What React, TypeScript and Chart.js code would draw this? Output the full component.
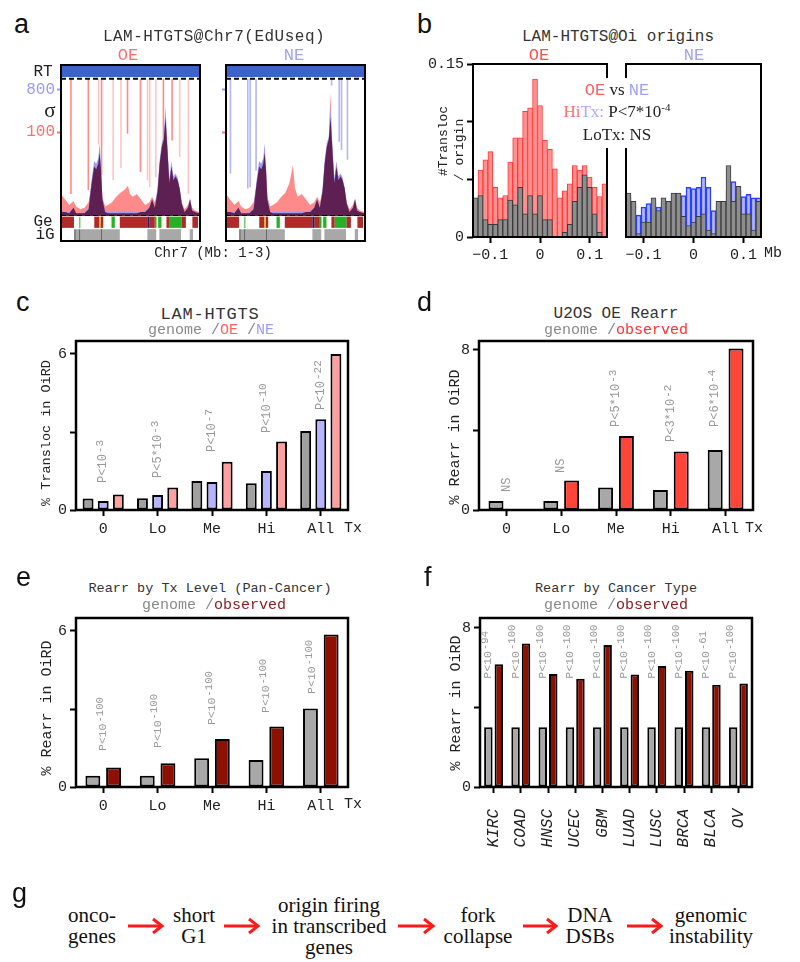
import React, { useEffect, useRef } from 'react';
import { Chart, registerables } from 'chart.js';

Chart.register(...registerables);

const MONO = '"Liberation Mono", "Courier New", monospace';
const SERIF = '"Liberation Serif", "Times New Roman", serif';
const SANS = '"Liberation Sans", Arial, sans-serif';
Chart.defaults.font.family = MONO;
Chart.defaults.color = '#222';

// ---------------- Panel a data ----------------
const aSigX = [0, 3, 6, 9, 11, 14, 17, 20, 22, 24, 25.5, 27, 28, 29, 30, 32, 34, 37, 40, 43, 46, 48.5, 50, 52, 55, 58, 61, 64, 66, 68, 70, 71.5, 73, 74.5, 75.7, 77, 78.5, 80, 81.5, 83, 84.5, 86, 87.5, 89.5, 92, 93.5, 95, 97, 100];
const aPinkOE = [16, 12, 8, 11, 7, 5, 6, 10, 22, 36, 34, 38, 46, 33, 14, 7, 8, 10, 14, 17, 19, 22, 16, 14, 16, 12, 8, 10, 14, 10, 18, 38, 50, 56, 72, 50, 24, 36, 26, 29, 26, 20, 10, 5, 8, 13, 6, 4, 3];
const aPinkNE = [16, 12, 8, 11, 7, 5, 6, 10, 22, 36, 34, 38, 46, 33, 14, 7, 8, 10, 14, 17, 24, 37, 20, 14, 16, 12, 8, 10, 14, 10, 18, 38, 50, 56, 90, 50, 24, 36, 26, 29, 26, 20, 10, 5, 8, 13, 6, 4, 3];
const aBlue = [4, 3, 3, 6, 2, 2, 3, 6, 25, 40, 38, 42, 53, 36, 12, 3, 3, 3, 3, 3, 3, 3, 3, 3, 3, 3, 4, 6, 12, 6, 21, 41, 53, 58, 80, 54, 27, 40, 29, 31, 28, 20, 9, 3, 6, 12, 4, 3, 2];
const aPurple = [3, 3, 2, 6, 2, 2, 2, 5, 22, 36, 34, 38, 46, 33, 12, 3, 2, 2, 2, 2, 2, 2, 2, 2, 2, 3, 3, 6, 12, 6, 18, 38, 50, 56, 72, 50, 24, 36, 26, 29, 26, 20, 9, 3, 6, 12, 4, 3, 2];
const aOELinesDarkX = [7.2, 19.8, 29.4, 48.2, 57.6, 74.2, 80.5];
const aOELinesDarkLow = [16, 19, 30, 60, 32, 30, 55];
const aOELinesLightX = [27.2, 37.8, 43.4, 62.7, 64.3, 68.7, 86, 92.3];
const aOELinesLightLow = [52, 26, 35, 26, 21, 28, 43, 16];
const aNELinesX = [3.2, 15.8, 17.5, 21.8, 76.5, 82, 83.7, 88];
const aNELinesLow = [31, 20, 21, 33, 95, 54, 48, 41];
const aTickVals = [61, 92];
const aTickLabels = ['100', '800'];
const aTickColors = ['#ff7070', '#9a9aff'];
const aTracks = ['Ge', 'iG'];
const geRed = [[0.7, 9.4], [24.1, 27.7], [28.7, 30.6], [42.6, 62.6], [63.9, 68], [76.4, 78.8], [87.2, 90.5], [95.2, 99.3]];
const geGreen = [[13.3, 14.0], [36.6, 39], [68, 69.2], [70.4, 72.8], [78.8, 87.2]];
const geYellow = [[27.7, 28.7]];
const geNavy = [[62.6, 63.9]];
const igGray = [[9.4, 42.6], [62.6, 69], [71.3, 87], [93.3, 95.7]];
const igDark = [[9.9, 10.4], [13.3, 13.8], [29.1, 29.6]];

// ---------------- Panel b data ----------------
const bBins = [-0.13, -0.12, -0.11, -0.1, -0.09, -0.08, -0.07, -0.06, -0.05, -0.04, -0.03, -0.02, -0.01, 0, 0.01, 0.02, 0.03, 0.04, 0.05, 0.06, 0.07, 0.08, 0.09, 0.1, 0.11, 0.12, 0.13];
const bOEHiTx = [0.030, 0.058, 0.067, 0.074, 0.043, 0.034, 0.036, 0.065, 0.086, 0.086, 0.109, 0.112, 0.137, 0.114, 0.084, 0.076, 0.059, 0.034, 0.040, 0.046, 0.062, 0.058, 0.062, 0.052, 0.043, 0.035, 0.046];
const bOELoTx = [0.034, 0.036, 0.015, 0.011, 0.011, 0.015, 0.015, 0.032, 0.028, 0.043, 0.020, 0.036, 0.020, 0.036, 0.015, 0.015, 0.000, 0.000, 0.004, 0.011, 0.031, 0.043, 0.054, 0.043, 0.020, 0.004, 0.000];
const bNEHiTx = [0.035, 0.028, 0.019, 0.026, 0.029, 0.030, 0.026, 0.030, 0.028, 0.035, 0.035, 0.036, 0.043, 0.042, 0.043, 0.052, 0.043, 0.023, 0.028, 0.030, 0.040, 0.048, 0.040, 0.035, 0.037, 0.034, 0.034];
const bNELoTx = [0.038, 0.031, 0.003, 0.013, 0.013, 0.034, 0.023, 0.034, 0.031, 0.038, 0.038, 0.018, 0.010, 0.013, 0.018, 0.020, 0.006, 0.003, 0.031, 0.031, 0.062, 0.031, 0.044, 0.020, 0.020, 0.006, 0.031];
const bXTicks = [-0.1, 0, 0.1];
const bXTickLabels = ['\u22120.1', '0', '0.1'];
const bYTicks = [0, 0.05, 0.1, 0.15];
const bYTickLabels = ['0', '', '', '0.15'];

// ---------------- Panels c-e data ----------------
const txCats = ['0', 'Lo', 'Me', 'Hi', 'All'];
const cGenome = [0.44, 0.45, 1.12, 1.03, 3.04];
const cNE = [0.35, 0.58, 1.08, 1.5, 3.49];
const cOE = [0.6, 0.87, 1.86, 2.63, 6.0];
const cPBase = ['P<10', 'P<5*10', 'P<10', 'P<10', 'P<10'];
const cPExp = ['-3', '-3', '-7', '-10', '-22'];
const cPAt = [1.04, 1.23, 2.23, 2.96, 3.85];
const cPDx = [0, 0, 0, 0, 0];

const dGenome = [0.45, 0.45, 1.12, 1.0, 3.0];
const dObserved = [0, 1.47, 3.7, 2.92, 8.08];
const dPBase = ['NS', 'NS', 'P<5*10', 'P<3*10', 'P<6*10'];
const dPExp = ['', '', '-3', '-2', '-4'];
const dPAt = [0.9, 1.85, 4.15, 3.4, 4.15];
const dPDx = [0, 0, 0, 0, -0.2];

const eGenome = [0.43, 0.43, 1.11, 1.04, 3.02];
const eObserved = [0.75, 0.91, 1.85, 2.33, 5.87];
const ePBase = ['P<10', 'P<10', 'P<10', 'P<10', 'P<10'];
const ePExp = ['-100', '-100', '-100', '-100', '-100'];
const ePAt = [1.38, 1.5, 2.38, 2.85, 3.58];
const ePDx = [0, 0, 0, 0, -0.16];

const fCats = ['KIRC', 'COAD', 'HNSC', 'UCEC', 'GBM', 'LUAD', 'LUSC', 'BRCA', 'BLCA', 'OV'];
const fGenome = [3, 3, 3, 3, 3, 3, 3, 3, 3, 3];
const fObserved = [6.17, 7.22, 5.68, 5.44, 7.14, 5.66, 6.08, 5.85, 5.14, 5.21];
const fPBase = ['P<10', 'P<10', 'P<10', 'P<10', 'P<10', 'P<10', 'P<10', 'P<10', 'P<10', 'P<10'];
const fPExp = ['-94', '-100', '-100', '-100', '-100', '-100', '-100', '-100', '-61', '-100'];
const fPAt = [5.45, 5.45, 5.45, 5.45, 5.45, 5.45, 5.45, 5.45, 5.45, 5.45];
const fPDx = [-0.19, -0.19, -0.19, -0.19, -0.19, -0.19, -0.19, -0.19, -0.19, -0.19];

// ---------------- Panel g ----------------
const gNodes = [
  { x: 92, lines: ['onco-', 'genes'] },
  { x: 194, lines: ['short', 'G1'] },
  { x: 329, lines: ['origin firing', 'in transcribed', 'genes'] },
  { x: 478, lines: ['fork', 'collapse'] },
  { x: 590, lines: ['DNA', 'DSBs'] },
  { x: 711, lines: ['genomic', 'instability'] },
];
const gArrows = [[128, 162], [224, 258], [398, 433], [523, 556], [627, 661]];

// ---------------- plugins ----------------
const framePlugin = (w: number) => ({
  id: 'frame',
  afterDatasetsDraw(chart: any) {
    const { ctx, chartArea: a } = chart;
    ctx.save();
    ctx.strokeStyle = '#000';
    ctx.lineWidth = w;
    ctx.strokeRect(a.left, a.top, a.right - a.left, a.bottom - a.top);
    ctx.restore();
  },
});

const pLabelPlugin = (p: any) => ({
  id: 'pLabels',
  afterDatasetsDraw(chart: any) {
    if (!p) return;
    const { ctx } = chart;
    const xs = chart.scales.x;
    const ys = chart.scales.y;
    const n = chart.data.labels.length;
    const cw = (xs.right - xs.left) / n;
    ctx.save();
    ctx.fillStyle = p.color;
    p.base.forEach((b: string, i: number) => {
      const x = xs.getPixelForValue(i) + p.dx[i] * cw;
      const y = ys.getPixelForValue(p.at[i]);
      ctx.save();
      ctx.translate(x, y);
      ctx.rotate(-Math.PI / 2);
      ctx.textAlign = 'left';
      ctx.textBaseline = 'middle';
      ctx.font = `${p.size}px ${MONO}`;
      ctx.fillText(b, 0, 0);
      const w = ctx.measureText(b).width;
      if (p.exp[i]) {
        ctx.font = `${p.size * 0.92}px ${MONO}`;
        ctx.fillText(p.exp[i], w + 1, -3);
      }
      ctx.restore();
    });
    ctx.restore();
  },
});

// ---------------- config builders ----------------
function signalConfig(pink: number[], lineSets: any[], yW: number, showLabels: boolean) {
  const series = (ys: number[]) => aSigX.map((x, i) => ({ x, y: ys[i] }));
  const vlines = (xs: number[], lows: number[]) =>
    xs.flatMap((x, i) => [{ x, y: lows[i] }, { x, y: 100 }, { x, y: null }]);
  const dash = (y: number) => ({
    data: [{ x: 0, y }, { x: 100, y }], borderColor: '#000', borderWidth: 2, borderDash: [5, 3],
    pointRadius: 0, fill: false, order: 1,
  });
  return () => ({
    type: 'line',
    data: {
      datasets: [
        dash(100),
        dash(0),
        { data: series(aPurple), fill: 'origin', backgroundColor: '#5e2052', borderWidth: 0, pointRadius: 0, order: 2 },
        { data: series(aBlue), fill: 'origin', backgroundColor: '#9c9cf4', borderWidth: 0, pointRadius: 0, order: 3 },
        { data: series(pink), fill: 'origin', backgroundColor: '#ff8a8a', borderWidth: 0, pointRadius: 0, order: 4 },
        ...lineSets.map((s) => ({
          data: vlines(s.x, s.low), borderColor: s.color, borderWidth: 1.6, pointRadius: 0,
          fill: false, spanGaps: false, order: 5,
        })),
        {
          data: [{ x: 0, y: 110 }, { x: 100, y: 110 }], fill: { value: 101.3 }, backgroundColor: '#3c64c8',
          borderWidth: 0, pointRadius: 0, order: 6,
        },
      ],
    },
    options: {
      responsive: false, animation: false, events: [],
      layout: { padding: 0 },
      plugins: { legend: { display: false }, tooltip: { enabled: false } },
      scales: {
        x: { type: 'linear', min: 0, max: 100, display: false },
        y: {
          min: 0, max: 110, border: { display: false },
          grid: {
            display: true, drawOnChartArea: false, drawTicks: true, tickLength: 4, tickWidth: 2,
            tickColor: (c: any) => aTickColors[c.index] || '#000',
          },
          afterBuildTicks: (s: any) => { s.ticks = aTickVals.map((v) => ({ value: v })); },
          ticks: {
            display: showLabels, padding: 2, font: { size: 16 },
            color: (c: any) => aTickColors[c.index] || '#000',
            callback: (_v: any, i: number) => aTickLabels[i],
          },
          afterFit: (s: any) => { s.width = yW; s.paddingTop = 0; s.paddingBottom = 0; },
        },
      },
    },
  });
}

function trackConfig() {
  const seg = (list: number[][], track: string, color: string) => ({
    data: list.map((r) => ({ x: r, y: track })), backgroundColor: color, borderWidth: 0,
    grouped: false, barPercentage: 0.9, categoryPercentage: 1,
  });
  return () => ({
    type: 'bar',
    data: {
      labels: aTracks,
      datasets: [
        seg(igDark, 'iG', '#4a4a4a'),
        seg(geNavy, 'Ge', '#1a1a70'),
        seg(geYellow, 'Ge', '#c8b400'),
        seg(geGreen, 'Ge', '#25b025'),
        seg(geRed, 'Ge', '#b02a2a'),
        seg(igGray, 'iG', '#a8a8a8'),
      ],
    },
    options: {
      indexAxis: 'y', responsive: false, animation: false, events: [],
      layout: { padding: 0 },
      plugins: { legend: { display: false }, tooltip: { enabled: false } },
      scales: {
        x: { type: 'linear', min: 0, max: 100, display: false },
        y: { type: 'category', display: false },
      },
    },
  });
}

function histConfig(sets: any[], showY: boolean) {
  return () => ({
    type: 'bar',
    data: {
      datasets: sets.map((s) => ({
        data: bBins.map((x, i) => ({ x, y: s.data[i] })), backgroundColor: s.fill, borderColor: s.stroke,
        borderWidth: s.bw, grouped: false, categoryPercentage: 1, barPercentage: 1,
      })),
    },
    options: {
      responsive: false, animation: false, events: [],
      layout: { padding: { top: 10, right: 5, left: showY ? 0 : 5, bottom: 0 } },
      plugins: { legend: { display: false }, tooltip: { enabled: false } },
      scales: {
        x: {
          type: 'linear', min: -0.135, max: 0.135, offset: false,
          grid: { display: true, offset: false, drawOnChartArea: false, drawTicks: true, tickLength: 6, tickWidth: 2, tickColor: '#000' },
          border: { display: false },
          afterBuildTicks: (s: any) => { s.ticks = bXTicks.map((v) => ({ value: v })); },
          ticks: { color: '#222', font: { size: 15 }, padding: 3, maxRotation: 0, callback: (_v: any, i: number) => bXTickLabels[i] },
          afterFit: (s: any) => { s.height = 30; s.paddingLeft = 0; s.paddingRight = 0; },
        },
        y: {
          display: showY, min: 0, max: 0.15,
          grid: { display: true, drawOnChartArea: false, drawTicks: true, tickLength: 6, tickWidth: 2, tickColor: '#000' },
          border: { display: false },
          afterBuildTicks: (s: any) => { s.ticks = bYTicks.map((v) => ({ value: v })); },
          ticks: { color: '#222', font: { size: 15 }, padding: 3, callback: (_v: any, i: number) => bYTickLabels[i] },
          afterFit: (s: any) => { s.width = showY ? 45 : 0; s.paddingTop = 0; s.paddingBottom = 0; },
        },
      },
    },
    plugins: [framePlugin(2)],
  });
}

function barConfig(o: any) {
  return () => ({
    type: 'bar',
    data: {
      labels: o.labels,
      datasets: o.sets.map((s: any) => ({
        data: s.data, backgroundColor: s.color, borderColor: '#000', borderWidth: 2, borderSkipped: false,
        categoryPercentage: o.cat, barPercentage: o.bar,
      })),
    },
    options: {
      responsive: false, animation: false, events: [],
      layout: { padding: { top: 5, right: 10, left: 0, bottom: 0 } },
      plugins: { legend: { display: false }, tooltip: { enabled: false } },
      scales: {
        x: {
          grid: { display: true, offset: false, drawOnChartArea: false, drawTicks: true, tickLength: 6, tickWidth: 2, tickColor: '#000' },
          border: { display: false },
          ticks: { color: '#222', font: o.xFont, padding: o.xPad, autoSkip: false, maxRotation: o.xRot, minRotation: o.xRot },
          afterFit: (s: any) => { s.height = o.xH; s.paddingLeft = 0; s.paddingRight = 0; },
        },
        y: {
          min: 0, max: o.yMax,
          grid: { display: true, drawOnChartArea: false, drawTicks: true, tickLength: 6, tickWidth: 2, tickColor: '#000' },
          border: { display: false },
          afterBuildTicks: (s: any) => { s.ticks = o.yTicks.map((v: number) => ({ value: v })); },
          ticks: { color: '#222', font: { size: 15 }, padding: 3, callback: (_v: any, i: number) => o.yTickLabels[i] },
          afterFit: (s: any) => { s.width = 40; s.paddingTop = 0; s.paddingBottom = 0; },
        },
      },
    },
    plugins: [framePlugin(2.5), pLabelPlugin(o.p)],
  });
}

// ---------------- components ----------------
function ChartCanvas({ x, y, w, h, make }: any) {
  const ref = useRef<HTMLCanvasElement | null>(null);
  useEffect(() => {
    const chart = new Chart(ref.current as HTMLCanvasElement, make());
    return () => chart.destroy();
  }, []);
  return (
    <canvas ref={ref} width={w} height={h}
      style={{ position: 'absolute', left: x, top: y, width: w, height: h }} />
  );
}

function Txt({ x, y, size, color = '#222', font = MONO, anchor = 'middle', rot = false, children, style }: any) {
  const tx = anchor === 'middle' ? '-50%' : anchor === 'end' ? '-100%' : '0';
  return (
    <div style={{
      position: 'absolute', left: x, top: y, transform: `translate(${tx},-50%)${rot ? ' rotate(-90deg)' : ''}`,
      fontFamily: font, fontSize: size, color, lineHeight: 1, whiteSpace: 'nowrap', ...style,
    }}>{children}</div>
  );
}

const Frame = ({ x, y, w, h }: any) => (
  <div style={{ position: 'absolute', left: x, top: y, width: w, height: h, border: '2px solid #000', boxSizing: 'border-box' }} />
);

const GRAY = '#8a8a8a';

export default function App() {
  const oeLines = [
    { x: aOELinesLightX, low: aOELinesLightLow, color: 'rgba(255,150,150,0.55)' },
    { x: aOELinesDarkX, low: aOELinesDarkLow, color: 'rgba(255,110,110,0.8)' },
  ];
  const neLines = [{ x: aNELinesX, low: aNELinesLow, color: 'rgba(150,150,240,0.7)' }];

  const panelLabel = (t: string, x: number, y: number) => (
    <Txt x={x} y={y} size={27} font={SANS} anchor="start" color="#111">{t}</Txt>
  );

  return (
    <div style={{ position: 'absolute', left: 0, top: 0, width: 800, height: 962, background: '#fff', overflow: 'hidden' }}>
      {/* ---------- panel a ---------- */}
      <ChartCanvas x={25} y={65} w={174} h={151} make={signalConfig(aPinkOE, oeLines, 36, true)} />
      <ChartCanvas x={221} y={65} w={143} h={151} make={signalConfig(aPinkNE, neLines, 5, false)} />
      <ChartCanvas x={61} y={216} w={138} h={25} make={trackConfig()} />
      <ChartCanvas x={226} y={216} w={138} h={25} make={trackConfig()} />
      <Frame x={60} y={64} w={141} h={178} />
      <Frame x={225} y={64} w={141} h={178} />
      {panelLabel('a', 14, 24)}
      <Txt x={214} y={37} size={16} color="#333" style={{ letterSpacing: 0.5 }}>LAM-HTGTS@Chr7(EdUseq)</Txt>
      <Txt x={128} y={55} size={17} color="#ff7070">OE</Txt>
      <Txt x={294} y={55} size={17} color="#a0a0ff">NE</Txt>
      <Txt x={43} y={72} size={16}>RT</Txt>
      <Txt x={50} y={110} size={21} font={SERIF}>σ</Txt>
      <Txt x={43} y={222} size={16}>Ge</Txt>
      <Txt x={45} y={235} size={16}>iG</Txt>
      <Txt x={213} y={253} size={14}>Chr7 (Mb: 1-3)</Txt>

      {/* ---------- panel b ---------- */}
      <ChartCanvas x={428} y={54} w={184} h={213}
        make={histConfig([
          { data: bOELoTx, fill: '#8e8e8e', stroke: '#3a3a3a', bw: 1 },
          { data: bOEHiTx, fill: '#ff9090', stroke: '#ff3a3a', bw: 1 },
        ], true)} />
      <ChartCanvas x={621} y={54} w={145} h={213}
        make={histConfig([
          { data: bNELoTx, fill: '#8e8e8e', stroke: '#3a3a3a', bw: 1 },
          { data: bNEHiTx, fill: '#b0b4ff', stroke: '#2a40ff', bw: 1.5 },
        ], false)} />
      <div style={{ position: 'absolute', left: 566, top: 78, width: 104, height: 70, background: '#fff' }} />
      {panelLabel('b', 417, 24)}
      <Txt x={618} y={37} size={16} color="#333">LAM-HTGTS@Oi origins</Txt>
      <Txt x={539} y={55} size={17} color="#ff5050">OE</Txt>
      <Txt x={694} y={55} size={17} color="#a0a0ff">NE</Txt>
      <Txt x={617} y={90} size={17} font={SERIF}>
        <span style={{ fontFamily: MONO, color: '#ff6060' }}>OE</span> vs <span style={{ fontFamily: MONO, color: '#a0a0ff' }}>NE</span>
      </Txt>
      <Txt x={617} y={111} size={17} font={SERIF}>
        <span style={{ color: '#ff7070' }}>Hi</span><span style={{ color: '#a8a8ff' }}>Tx:</span> P&lt;7*10<span style={{ fontSize: 11, position: 'relative', top: -6 }}>-4</span>
      </Txt>
      <Txt x={617} y={134} size={17} font={SERIF}>LoTx:  NS</Txt>
      <Txt x={443} y={141} size={13} rot>#Transloc</Txt>
      <Txt x={459} y={150} size={13} rot>/ origin</Txt>
      <Txt x={773} y={253} size={15}>Mb</Txt>

      {/* ---------- panel c ---------- */}
      <ChartCanvas x={36} y={336} w={322} h={204}
        make={barConfig({
          labels: txCats,
          sets: [{ data: cGenome, color: '#a0a0a0' }, { data: cNE, color: '#b4b4ff' }, { data: cOE, color: '#ffa0a0' }],
          cat: 0.835, bar: 0.72, yMax: 6.5, yTicks: [0, 3, 6], yTickLabels: ['0', '', '6'],
          xFont: { size: 15 }, xPad: 4, xRot: 0, xH: 30,
          p: { base: cPBase, exp: cPExp, at: cPAt, dx: cPDx, size: 12, color: '#999' },
        })} />
      {panelLabel('c', 16, 302)}
      <Txt x={210} y={314} size={17} color="#333" style={{ letterSpacing: 0.8 }}>LAM-HTGTS</Txt>
      <Txt x={211} y={330} size={15} color={GRAY}>
        genome /<span style={{ color: '#ff6060' }}>OE</span> /<span style={{ color: '#9c9cff' }}>NE</span>
      </Txt>
      <Txt x={47} y={433} size={13.5} rot>% Transloc in OiRD</Txt>
      <Txt x={353} y={528} size={15}>Tx</Txt>

      {/* ---------- panel d ---------- */}
      <ChartCanvas x={439} y={336} w={324} h={204}
        make={barConfig({
          labels: txCats,
          sets: [{ data: dGenome, color: '#a8a8a8' }, { data: dObserved, color: '#ff4438' }],
          cat: 0.76, bar: 0.72, yMax: 8.45, yTicks: [0, 4, 8], yTickLabels: ['0', '', '8'],
          xFont: { size: 15 }, xPad: 4, xRot: 0, xH: 30,
          p: { base: dPBase, exp: dPExp, at: dPAt, dx: dPDx, size: 12, color: '#999' },
        })} />
      {panelLabel('d', 417, 302)}
      <Txt x={616} y={314} size={16} color="#333">U2OS OE Rearr</Txt>
      <Txt x={616} y={330} size={15} color={GRAY}>genome /<span style={{ color: '#ff3030' }}>observed</span></Txt>
      <Txt x={455} y={437} size={15} rot>% Rearr in OiRD</Txt>
      <Txt x={754} y={528} size={15}>Tx</Txt>

      {/* ---------- panel e ---------- */}
      <ChartCanvas x={36} y={613} w={322} h={204}
        make={barConfig({
          labels: txCats,
          sets: [{ data: eGenome, color: '#a8a8a8' }, { data: eObserved, color: '#8e1000' }],
          cat: 0.76, bar: 0.72, yMax: 6.5, yTicks: [0, 3, 6], yTickLabels: ['0', '', '6'],
          xFont: { size: 15 }, xPad: 4, xRot: 0, xH: 30,
          p: { base: ePBase, exp: ePExp, at: ePAt, dx: ePDx, size: 11.5, color: '#999' },
        })} />
      {panelLabel('e', 16, 577)}
      <Txt x={210} y={589} size={13.5} color="#333">Rearr by Tx Level (Pan-Cancer)</Txt>
      <Txt x={214} y={605} size={15} color={GRAY}>genome /<span style={{ color: '#8b1a1a' }}>observed</span></Txt>
      <Txt x={47} y={708} size={15} rot>% Rearr in OiRD</Txt>
      <Txt x={353} y={804} size={15}>Tx</Txt>

      {/* ---------- panel f ---------- */}
      <ChartCanvas x={440} y={613} w={322} h={254}
        make={barConfig({
          labels: fCats,
          sets: [{ data: fGenome, color: '#a8a8a8' }, { data: fObserved, color: '#8e1000' }],
          cat: 0.77, bar: 0.81, yMax: 8.5, yTicks: [0, 4, 8], yTickLabels: ['0', '', '8'],
          xFont: { size: 16, style: 'italic' }, xPad: 16, xRot: 90, xH: 80,
          p: { base: fPBase, exp: fPExp, at: fPAt, dx: fPDx, size: 11.5, color: '#999' },
        })} />
      {panelLabel('f', 424, 577)}
      <Txt x={616} y={589} size={13.5} color="#333">Rearr by Cancer Type</Txt>
      <Txt x={616} y={605} size={15} color={GRAY}>genome /<span style={{ color: '#8b1a1a' }}>observed</span></Txt>
      <Txt x={456} y={703} size={15} rot>% Rearr in OiRD</Txt>

      {/* ---------- panel g ---------- */}
      {panelLabel('g', 12, 893)}
      {gNodes.map((n, i) => (
        <div key={i} style={{
          position: 'absolute', left: n.x, top: 926, transform: 'translate(-50%,-50%)', textAlign: 'center',
          fontFamily: SERIF, fontSize: 21, lineHeight: '21px', color: '#111', whiteSpace: 'nowrap',
        }}>
          {n.lines.map((l, j) => <div key={j}>{l}</div>)}
        </div>
      ))}
      <svg width={800} height={962} style={{ position: 'absolute', left: 0, top: 0, pointerEvents: 'none' }}>
        {gArrows.map(([a, b], i) => (
          <g key={i} stroke="#ff1a1a" strokeWidth={3} fill="none">
            <line x1={a} y1={926} x2={b - 1} y2={926} />
            <polyline points={`${b - 9},${919} ${b},${926} ${b - 9},${933}`} />
          </g>
        ))}
      </svg>
    </div>
  );
}
